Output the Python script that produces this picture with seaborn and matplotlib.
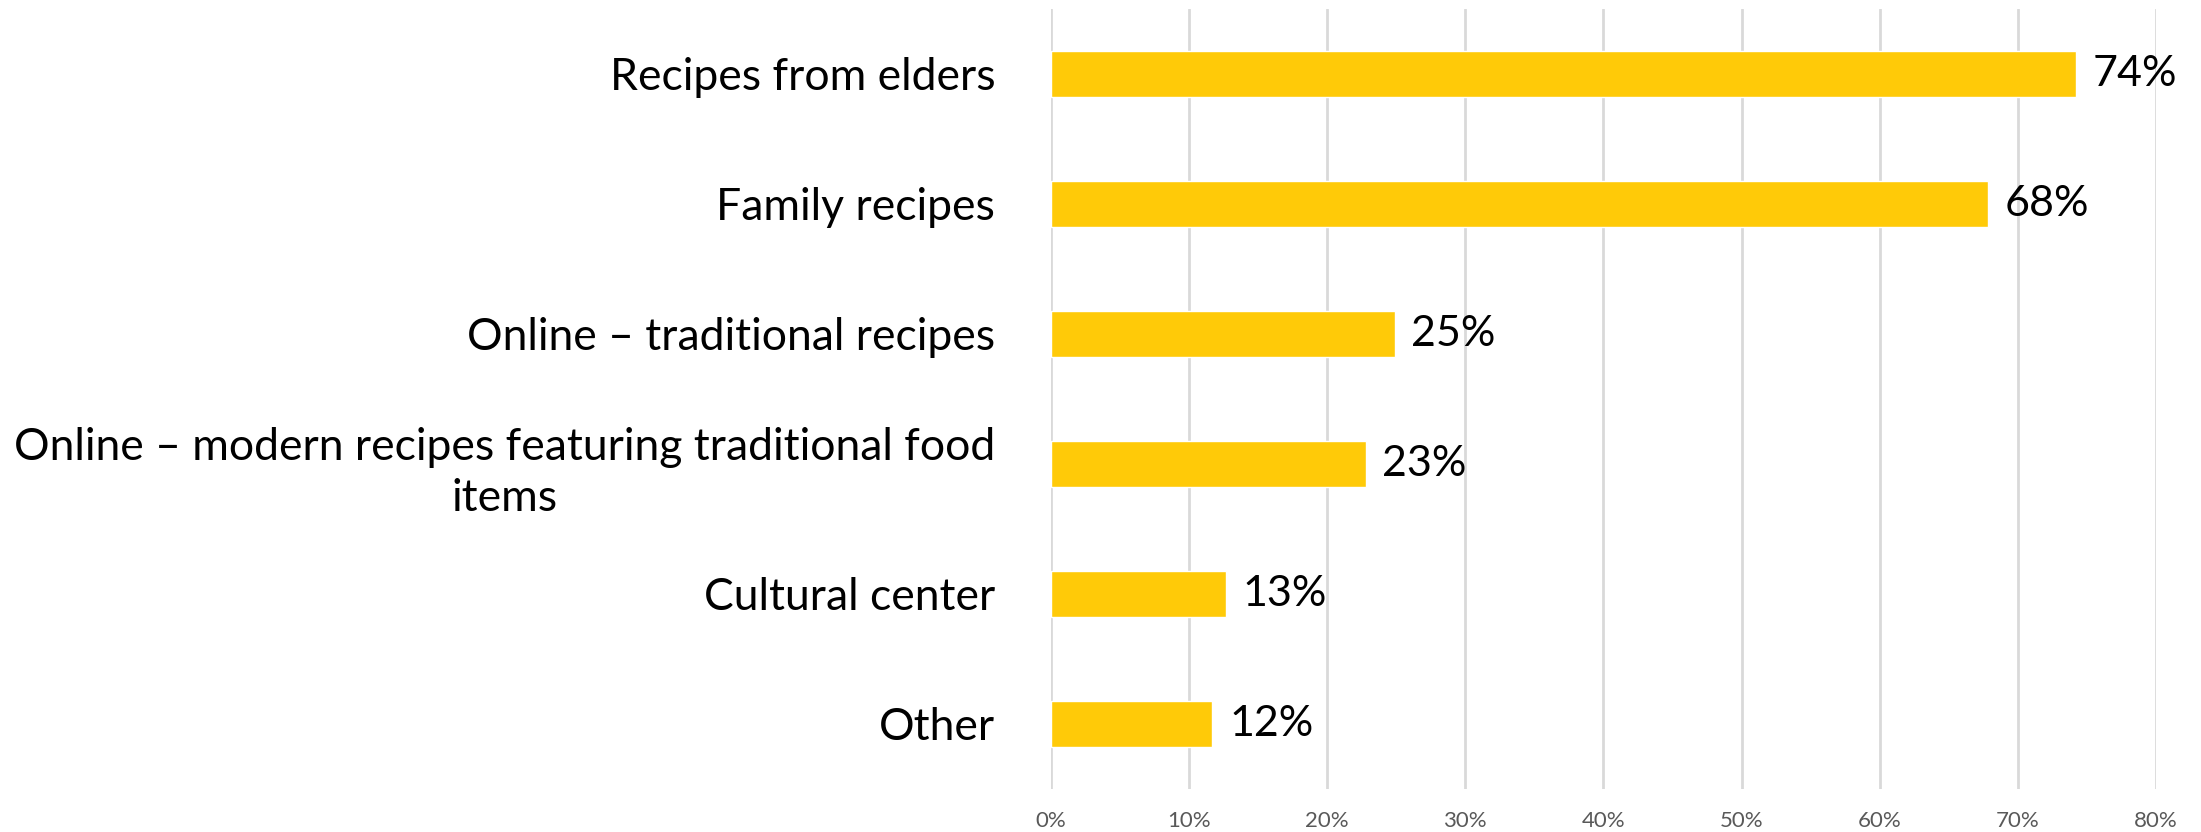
import matplotlib
matplotlib.use('Agg')
import matplotlib.pyplot as plt
import seaborn as sns
import pandas as pd

# Sources of traditional recipes (share of respondents, %)
categories = [
    'Recipes from elders',
    'Family recipes',
    'Online – traditional recipes',
    'Online – modern recipes featuring traditional food\nitems',
    'Cultural center',
    'Other',
]
shares = [74.2, 67.8, 24.9, 22.8, 12.7, 11.7]
x_ticks = [0, 10, 20, 30, 40, 50, 60, 70, 80]

df = pd.DataFrame({'source': categories, 'share': shares})

sns.set_theme(style='white')
plt.rcParams['font.family'] = ['Lato', 'DejaVu Sans']

fig = plt.figure(figsize=(22.01, 8.32), dpi=100)
ax = fig.add_axes([0.4774, 0.0517, 0.5022, 0.9375])

sns.barplot(data=df, x='share', y='source', orient='h', color='#FFCA08',
            width=0.354, saturation=1, ax=ax, zorder=3)

ax.set_xlim(0, 80)
ax.set_xticks(x_ticks)
ax.set_xticklabels([f'{t}%' for t in x_ticks], fontsize=16, color='#595959')
ax.grid(axis='x', color='#d9d9d9', linewidth=2, zorder=0)
ax.set_axisbelow(True)
for s in ax.spines.values():
    s.set_visible(False)
ax.tick_params(axis='x', length=0, pad=16)
ax.tick_params(axis='y', length=0, pad=40)
ax.set_xlabel('')
ax.set_ylabel('')
for lab in ax.get_yticklabels():
    lab.set_fontsize(32)
    lab.set_color('black')
    lab.set_multialignment('center')
    lab.set_linespacing(1.3)

ax.bar_label(ax.containers[0], labels=[f'{v:.0f}%' for v in shares],
             padding=12, fontsize=31, color='black')

fig.savefig('out.png', dpi=100)
